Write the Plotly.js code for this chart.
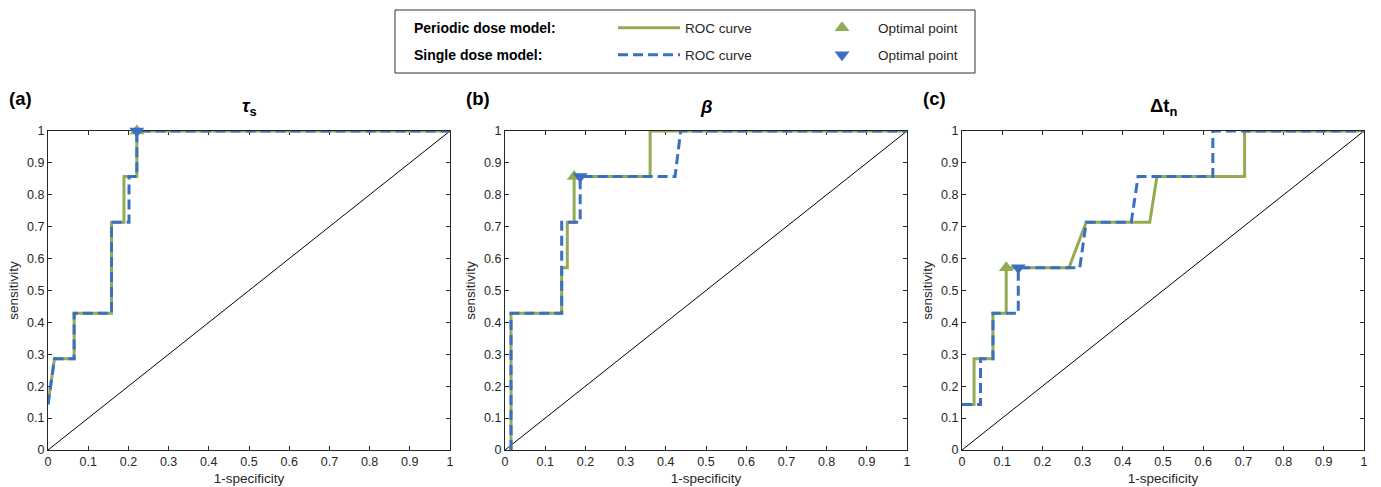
<!DOCTYPE html>
<html>
<head>
<meta charset="utf-8">
<script src="https://cdn.plot.ly/plotly-3.0.1.min.js"></script>
<style>html,body{margin:0;padding:0;background:#fff;}#chart{width:1381px;height:487px;}</style>
</head>
<body>
<div id="chart"></div>
<script>
// ---- data ----
var tauPeriodicX = [0, 0.016, 0.065, 0.065, 0.158, 0.158, 0.189, 0.189, 0.221, 0.221, 1];
var tauPeriodicY = [0.1429, 0.2857, 0.2857, 0.4286, 0.4286, 0.7143, 0.7143, 0.8571, 0.8571, 1, 1];
var tauSingleX = [0, 0.016, 0.065, 0.065, 0.158, 0.158, 0.2015, 0.2015, 0.221, 0.221, 1];
var tauSingleY = [0.1429, 0.2857, 0.2857, 0.4286, 0.4286, 0.7143, 0.7143, 0.8571, 0.8571, 1, 1];
var tauOptPeriodic = [0.221, 1];
var tauOptSingle = [0.221, 1];

var betaPeriodicX = [0.015, 0.015, 0.141, 0.141, 0.155, 0.155, 0.172, 0.172, 0.361, 0.361, 1];
var betaPeriodicY = [0, 0.4286, 0.4286, 0.5714, 0.5714, 0.7143, 0.7143, 0.8571, 0.8571, 1, 1];
var betaSingleX = [0.015, 0.015, 0.141, 0.141, 0.187, 0.187, 0.423, 0.437, 1];
var betaSingleY = [0, 0.4286, 0.4286, 0.7143, 0.7143, 0.8571, 0.8571, 1, 1];
var betaOptPeriodic = [0.172, 0.8571];
var betaOptSingle = [0.187, 0.8571];

var dtPeriodicX = [0, 0.030, 0.030, 0.077, 0.077, 0.110, 0.110, 0.266, 0.309, 0.467, 0.485, 0.703, 0.703, 1];
var dtPeriodicY = [0.1429, 0.1429, 0.2857, 0.2857, 0.4286, 0.4286, 0.5714, 0.5714, 0.7143, 0.7143, 0.8571, 0.8571, 1, 1];
var dtSingleX = [0, 0.046, 0.046, 0.077, 0.077, 0.140, 0.140, 0.293, 0.309, 0.421, 0.438, 0.624, 0.624, 1];
var dtSingleY = [0.1429, 0.1429, 0.2857, 0.2857, 0.4286, 0.4286, 0.5714, 0.5714, 0.7143, 0.7143, 0.8571, 0.8571, 1, 1];
var dtOptPeriodic = [0.110, 0.5714];
var dtOptSingle = [0.140, 0.5714];

var diagX = [0, 1];
var diagY = [0, 1];

var panelLabels = ['(a)', '(b)', '(c)'];
var panelTitles = ['<b><i>τ</i><sub>s</sub></b>', '<b><i>β</i></b>', '<b>Δt<sub>n</sub></b>'];
var xTitle = '1-specificity';
var yTitle = 'sensitivity';
var seriesNames = ['ROC curve', 'Optimal point'];
var modelNames = ['Periodic dose model:', 'Single dose model:'];

// ---- styling ----
var W = 1381, H = 487;
var green = '#93ab53', blue = '#3b6fc2';
var FONT = 'Liberation Sans, Arial, sans-serif';
var panels = [
  {px: tauPeriodicX, py: tauPeriodicY, sx: tauSingleX, sy: tauSingleY, op: tauOptPeriodic, os: tauOptSingle},
  {px: betaPeriodicX, py: betaPeriodicY, sx: betaSingleX, sy: betaSingleY, op: betaOptPeriodic, os: betaOptSingle},
  {px: dtPeriodicX, py: dtPeriodicY, sx: dtSingleX, sy: dtSingleY, op: dtOptPeriodic, os: dtOptSingle}
];
var plotLeft = [48, 505, 962], plotW = 402, plotTop = 131, plotBottom = 450;

var traces = [];
panels.forEach(function (p, i) {
  var xa = i === 0 ? 'x' : 'x' + (i + 1), ya = i === 0 ? 'y' : 'y' + (i + 1);
  traces.push({x: diagX, y: diagY, xaxis: xa, yaxis: ya, mode: 'lines', line: {color: '#000', width: 1}, showlegend: false, hoverinfo: 'skip'});
  traces.push({x: p.px, y: p.py, xaxis: xa, yaxis: ya, mode: 'lines', name: seriesNames[0], line: {color: green, width: 3}, showlegend: i === 0, legend: 'legend', cliponaxis: false});
  traces.push({x: [p.op[0]], y: [p.op[1]], xaxis: xa, yaxis: ya, mode: 'markers', name: seriesNames[1], marker: {symbol: 'triangle-up', size: 13, color: green}, showlegend: i === 0, legend: 'legend', cliponaxis: false});
  traces.push({x: p.sx, y: p.sy, xaxis: xa, yaxis: ya, mode: 'lines', name: seriesNames[0], line: {color: blue, width: 3, dash: '10px,5px'}, showlegend: i === 0, legend: 'legend2', cliponaxis: false});
  traces.push({x: [p.os[0]], y: [p.os[1]], xaxis: xa, yaxis: ya, mode: 'markers', name: seriesNames[1], marker: {symbol: 'triangle-down', size: 13, color: blue}, showlegend: i === 0, legend: 'legend2', cliponaxis: false});
});

function axis(dom, isX) {
  var a = {
    domain: dom, range: [0, 1], tick0: 0, dtick: 0.1, ticks: 'inside', ticklen: 4, tickwidth: 1,
    tickcolor: '#262626', showline: true, linecolor: '#262626', linewidth: 1, mirror: 'ticks',
    showgrid: false, zeroline: false, layer: 'below traces', fixedrange: true,
    tickfont: {family: FONT, size: 12.5, color: '#262626'}
  };
  a.title = {text: isX ? xTitle : yTitle, font: {family: FONT, size: 13.5, color: '#262626'}, standoff: isX ? 5 : 5};
  return a;
}

var layout = {
  width: W, height: H, margin: {l: 0, r: 0, t: 0, b: 0},
  paper_bgcolor: '#fff', plot_bgcolor: '#fff',
  font: {family: FONT, color: '#262626'},
  annotations: [], shapes: []
};
var yDom = [(H - plotBottom) / H, (H - plotTop) / H];
[0, 1, 2].forEach(function (i) {
  var sfx = i === 0 ? '' : String(i + 1);
  layout['xaxis' + sfx] = axis([plotLeft[i] / W, (plotLeft[i] + plotW) / W], true);
  layout['yaxis' + sfx] = axis(yDom, false);
  layout['xaxis' + sfx].anchor = 'y' + sfx;
  layout['yaxis' + sfx].anchor = 'x' + sfx;
  layout.annotations.push({text: '<b>' + panelLabels[i] + '</b>', xref: 'paper', yref: 'paper', x: (plotLeft[i] - 41) / W, y: (H - 99) / H, xanchor: 'left', yanchor: 'middle', showarrow: false, font: {family: FONT, size: 18.5, color: '#000'}});
  layout.annotations.push({text: panelTitles[i], xref: 'paper', yref: 'paper', x: (plotLeft[i] + plotW / 2) / W, y: (H - 107) / H, xanchor: 'center', yanchor: 'middle', showarrow: false, font: {family: FONT, size: 18.5, color: '#000'}});
});

// legend box
layout.shapes.push({type: 'rect', xref: 'paper', yref: 'paper', x0: 395 / W, x1: 975 / W, y0: (H - 73) / H, y1: (H - 10) / H, line: {color: '#333', width: 1}, fillcolor: 'rgba(0,0,0,0)'});
layout.annotations.push({text: '<b>' + modelNames[0] + '</b>', xref: 'paper', yref: 'paper', x: 412 / W, y: (H - 28) / H, xanchor: 'left', yanchor: 'middle', showarrow: false, font: {family: FONT, size: 14, color: '#000'}});
layout.annotations.push({text: '<b>' + modelNames[1] + '</b>', xref: 'paper', yref: 'paper', x: 412 / W, y: (H - 55) / H, xanchor: 'left', yanchor: 'middle', showarrow: false, font: {family: FONT, size: 14, color: '#000'}});
var legBase = {orientation: 'h', xref: 'paper', yref: 'paper', x: 613 / W, xanchor: 'left', yanchor: 'middle',
  bgcolor: 'rgba(0,0,0,0)', borderwidth: 0, itemwidth: 62, entrywidth: 116, entrywidthmode: 'pixels',
  font: {family: FONT, size: 13.5, color: '#262626'}, itemclick: false, itemdoubleclick: false, tracegroupgap: 0};
layout.legend = Object.assign({}, legBase, {y: (H - 28) / H});
layout.legend2 = Object.assign({}, legBase, {y: (H - 55) / H});

Plotly.newPlot('chart', traces, layout, {staticPlot: true, displayModeBar: false});
</script>
</body>
</html>
